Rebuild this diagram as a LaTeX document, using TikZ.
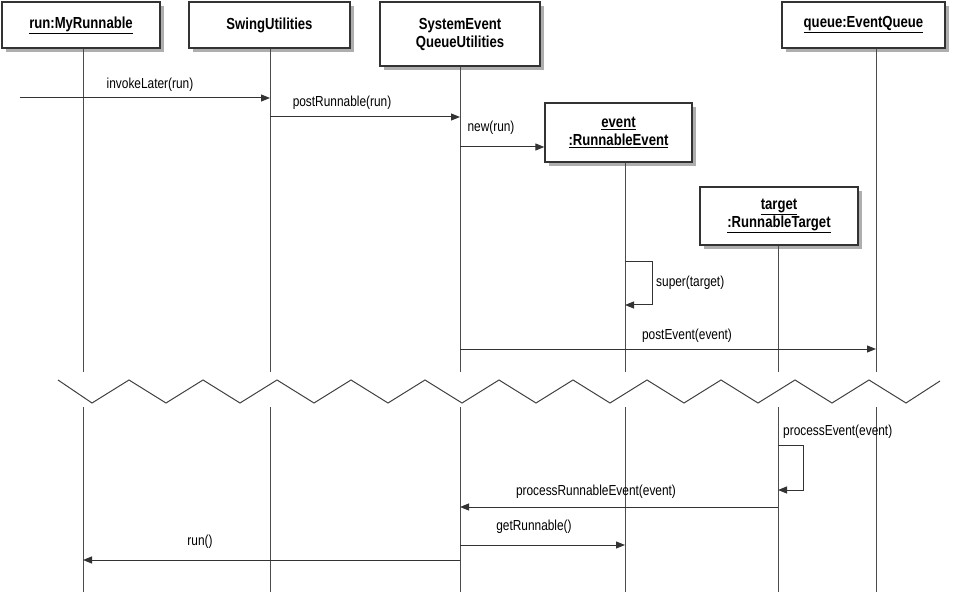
\documentclass[tikz,border=0pt]{standalone}
\usepackage{fontspec}
\setmainfont{Liberation Sans}[FakeStretch=0.82]
\usetikzlibrary{arrows.meta,shadows}
\begin{document}
\begin{tikzpicture}[x=1pt,y=-1pt,
 obj/.style={draw=black!80,line width=1.3pt,fill=white,align=center,font=\bfseries\fontsize{16}{18}\selectfont,
   drop shadow={shadow xshift=4pt,shadow yshift=-4pt,fill=black!45,opacity=0.7}},
 life/.style={draw=black!70,line width=1pt},
 msg/.style={draw=black!80,line width=1pt,-{Triangle[length=9pt,width=7pt]}},
 lbl/.style={font=\fontsize{14.5}{15}\selectfont,inner sep=1pt}]
\useasboundingbox (0,0) rectangle (962,596);
\def\ul#1{\underline{#1}}
\node[obj,minimum width=158pt,minimum height=46pt] (b1) at (81,25) {\ul{run:MyRunnable}};
\node[obj,minimum width=161pt,minimum height=46pt] (b2) at (269.5,25) {SwingUtilities};
\node[obj,minimum width=160pt,minimum height=64pt] (b3) at (460,34) {SystemEvent\\QueueUtilities};
\node[obj,minimum width=163pt,minimum height=46pt] (b4) at (863.5,25) {\ul{queue:EventQueue}};
\node[obj,minimum width=147pt,minimum height=59pt] (b5) at (618.5,132.5) {\ul{event}\\\ul{:RunnableEvent}};
\node[obj,minimum width=158pt,minimum height=58pt] (b6) at (779,216) {\ul{target}\\\ul{:RunnableTarget}};
% lifelines
\foreach \n/\x in {b1/83,b2/270,b3/460,b4/876,b5/625,b6/778}{
  \coordinate (\n a) at (\x,372); \coordinate (\n b) at (\x,407); \coordinate (\n e) at (\x,592);
  \draw[life] (\n.south -| \n a) -- (\n a);
  \draw[life] (\n b) -- (\n e);
}
% zigzag
\draw[black!75,line width=1pt] (58,380)
 \foreach \i in {0,...,10}{ -- ({92+74*\i},403) -- ({129+74*\i},380)} -- (906,403) -- (940,381);
% messages
\coordinate (start) at (20,98);
\draw[msg] (start) -- (270,98);
\node[lbl] (l1) at (150,85) {invokeLater(run)};
\draw[msg] (270,117) -- (460,117);
\node[lbl] (l2) at (342,103) {postRunnable(run)};
\draw[msg] (460,147) -- (b5.west |- 0,147);
\node[lbl] (l3) at (491,128) {new(run)};
\draw[msg] (625,262) -- (652,262) -- (652,305) -- (625,305);
\node[lbl,anchor=west] (l4) at (655,283) {super(target)};
\draw[msg] (460,349) -- (876,349);
\node[lbl] (l5) at (687,336) {postEvent(event)};
\draw[msg] (778,445) -- (803,445) -- (803,490) -- (778,490);
\node[lbl,anchor=west] (l6) at (782,432) {processEvent(event)};
\draw[msg] (778,507) -- (460,507);
\node[lbl] (l7) at (596,492) {processRunnableEvent(event)};
\draw[msg] (460,545) -- (625,545);
\node[lbl] (l8) at (534,527) {getRunnable()};
\draw[msg] (460,560) -- (83,560);
\node[lbl] (l9) at (200,542) {run()};
\end{tikzpicture}
\end{document}
